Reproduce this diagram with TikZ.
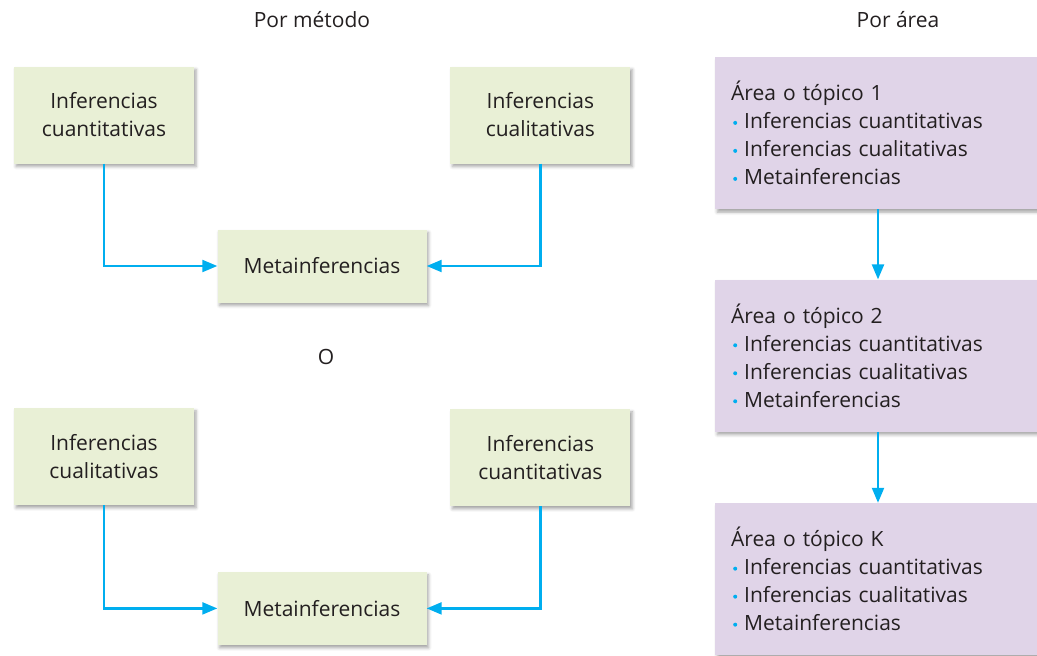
\documentclass[tikz,border=0pt]{standalone}
\usepackage{fontspec}
\setmainfont{Open Sans}
\usetikzlibrary{positioning, arrows.meta, shadows.blur}
\usepackage{xcolor}

\definecolor{greenbox}{HTML}{E9F0D6}
\definecolor{purplebox}{HTML}{E0D4E8}
\definecolor{arrowblue}{HTML}{00AEEF}
\definecolor{inktext}{HTML}{231F20}

\newcommand{\blt}{\hspace{2pt}\raisebox{4pt}{\tikz\fill[arrowblue] (0,0) circle (2pt);}\hspace{7pt}}

\begin{document}
\begin{tikzpicture}[
        x=1pt, y=-1pt,
        >={Triangle[length=15pt, width=12pt]},
        font=\fontsize{21}{28}\selectfont,
        text=inktext,
        inf/.style={
            rectangle,
            fill=greenbox,
            minimum width=180pt,
            minimum height=97pt,
            align=center,
            blur shadow={shadow xshift=2pt, shadow yshift=-3pt, shadow blur radius=3pt, shadow opacity=35}
        },
        meta/.style={
            inf,
            minimum width=209pt,
            minimum height=73pt
        },
        area/.style={
            rectangle,
            fill=purplebox,
            anchor=north west,
            minimum height=152pt,
            text width=300pt,
            inner xsep=16pt,
            align=left,
            blur shadow={shadow xshift=2pt, shadow yshift=-3pt, shadow blur radius=3pt, shadow opacity=35}
        },
        link/.style={->, line width=2.2pt, draw=arrowblue}
    ]
        \clip (0,0) rectangle (1037,656);

        % column headings
        \node (hmet) at (312,20) {Por método};
        \node (harea) at (898,20) {Por área};

        % first variant
        \node[inf] (qn1) at (104,115) {Inferencias\\cuantitativas};
        \node[inf, right=256pt of qn1] (ql1) {Inferencias\\cualitativas};
        \node[meta] (mt1) at (322,266) {Metainferencias};
        \draw[link] (qn1.south) |- (mt1.west);
        \draw[link] (ql1.south) |- (mt1.east);

        \node (or) at (326,357) {O};

        % second variant
        \node[inf, below=244pt of qn1] (ql2) {Inferencias\\cualitativas};
        \node[inf, below=245pt of ql1] (qn2) {Inferencias\\cuantitativas};
        \node[meta, below=269pt of mt1] (mt2) {Metainferencias};
        \draw[link] (ql2.south) |- (mt2.west);
        \draw[link] (qn2.south) |- (mt2.east);

        % by area
        \node[area] (ar1) at (715,57) {Área o tópico 1\\\blt Inferencias cuantitativas\\\blt Inferencias cualitativas\\\blt Metainferencias};
        \node[area, below=70pt of ar1] (ar2) {Área o tópico 2\\\blt Inferencias cuantitativas\\\blt Inferencias cualitativas\\\blt Metainferencias};
        \node[area, below=71pt of ar2] (ar3) {Área o tópico K\\\blt Inferencias cuantitativas\\\blt Inferencias cualitativas\\\blt Metainferencias};
        \draw[link] ([xshift=163pt]ar1.south west) -- ([xshift=163pt]ar2.north west);
        \draw[link] ([xshift=163pt]ar2.south west) -- ([xshift=163pt]ar3.north west);
    \end{tikzpicture}
\end{document}
